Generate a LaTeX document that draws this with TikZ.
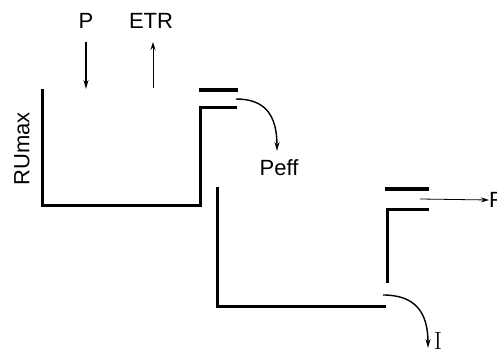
\documentclass[tikz,border=0pt]{standalone}
\usepackage{fontspec}
\setmainfont{Liberation Sans}
\newfontfamily\seriffont{Latin Modern Roman}
\usetikzlibrary{arrows.meta}
\begin{document}
\begin{tikzpicture}[x=1pt,y=-1pt,
  wall/.style={line width=3pt,line cap=butt},
  bar/.style={line width=4.5pt},
  flow/.style={line width=1.4pt,-{Stealth[length=9pt,width=5pt]}},
  thinflow/.style={line width=0.8pt,-{Stealth[length=8pt,width=5pt]}},
  lbl/.style={font=\fontsize{22}{25}\selectfont,inner sep=0pt}]
\useasboundingbox (0,0) rectangle (497,352);
% tank 1
\draw[wall] (42,89) -- (42,206) -- (200,206) -- (200,108) -- (237,108);
\draw[bar] (199,90) -- (238,90);
% tank 2
\draw[wall] (217,187) -- (217,306) -- (386,306);
\draw[wall] (387,283) -- (387,210) -- (429,210);
\draw[bar] (385,189) -- (429,189);
% labels
\node[lbl] (P) at (86,21) {P};
\node[lbl] (ETR) at (151,21) {ETR};
\node[lbl,rotate=90] (RU) at (22,149) {RUmax};
\node[lbl] (Peff) at (279,168) {Peff};
\node[lbl,anchor=west] (R) at (489,200) {R};
\node[inner sep=0pt,font=\seriffont\fontsize{25}{28}\selectfont] (I) at (438,341) {I};
% coordinates
\coordinate (pa) at (86,42);
\coordinate (pb) at (86,89);
\coordinate (ea) at (153,88);
\coordinate (eb) at (153,42);
\coordinate (qa) at (236,99);
\coordinate (qb) at (277,151);
\coordinate (ra) at (420,199);
\coordinate (ia) at (383,295);
\coordinate (ib) at (428,348);
% arrows
\draw[flow] (pa) -- (pb);
\draw[thinflow] (ea) -- (eb);
\draw[flow] (qa) .. controls (265,99) and (277,115) .. (qb);
\draw[thinflow] (ra) -- (R.west);
\draw[flow] (ia) .. controls (415,295) and (428,312) .. (ib);
\end{tikzpicture}
\end{document}
